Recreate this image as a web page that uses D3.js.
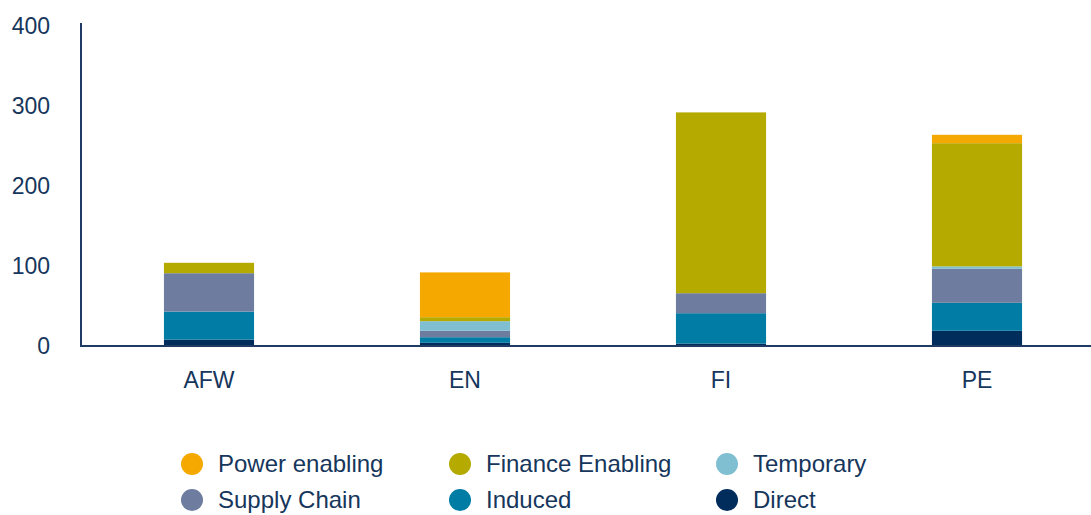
<!DOCTYPE html>
<html><head><meta charset="utf-8">
<script src="https://cdn.jsdelivr.net/npm/d3@7"></script>
<style>body{margin:0;background:#fff;}text{font-family:"Liberation Sans",Arial,sans-serif;}</style>
</head><body><svg id="c" width="1091" height="515"></svg>
<script>
const categories = ["AFW", "EN", "FI", "PE"];
const seriesNames = ["Direct", "Induced", "Supply Chain", "Temporary", "Finance Enabling", "Power enabling"];
const direct = [8, 4, 3, 19];
const induced = [35, 7, 38, 35];
const supplyChain = [48, 8, 25, 42.5];
const temporary = [0, 12, 0, 3];
const financeEnabling = [13, 5, 226, 154];
const powerEnabling = [0, 56, 0, 10.5];
const yTicks = [0, 100, 200, 300, 400];
const colors = {"Direct":"#002D5C","Induced":"#007CA5","Supply Chain":"#6E7CA0","Temporary":"#7FBFD1","Finance Enabling":"#B5AA00","Power enabling":"#F5A800"};
const legendOrder = [["Power enabling","Finance Enabling","Temporary"],["Supply Chain","Induced","Direct"]];

const seriesVals = [direct, induced, supplyChain, temporary, financeEnabling, powerEnabling];
const rows = categories.map((c,i)=>{const o={cat:c}; seriesNames.forEach((s,j)=>o[s]=seriesVals[j][i]); return o;});
const stack = d3.stack().keys(seriesNames)(rows);

const svg = d3.select("#c");
const textColor = "#16365C";
const x = d3.scaleBand().domain(categories).range([81, 1105]).paddingInner(0.648).paddingOuter(0.324);
const y = d3.scaleLinear().domain([0, 400]).range([346, 26]);

svg.append("g").selectAll("g").data(stack).join("g").attr("fill", d=>colors[d.key])
  .selectAll("rect").data(d=>d).join("rect")
  .attr("x", d=>x(d.data.cat)).attr("width", x.bandwidth())
  .attr("y", d=>y(d[1])).attr("height", d=>Math.max(0, y(d[0])-y(d[1])));

// axes
svg.append("line").attr("x1",81).attr("x2",81).attr("y1",23).attr("y2",347).attr("stroke","#1F3B63").attr("stroke-width",2);
svg.append("line").attr("x1",80).attr("x2",1091).attr("y1",346).attr("y2",346).attr("stroke","#1F3B63").attr("stroke-width",2);

svg.append("g").selectAll("text").data(yTicks).join("text")
  .attr("x", 50).attr("y", d=>y(d)).attr("dy","0.35em").attr("text-anchor","end")
  .attr("font-size", 23).attr("fill", textColor).text(d=>d);

svg.append("g").selectAll("text").data(categories).join("text")
  .attr("x", d=>x(d)+x.bandwidth()/2).attr("y", 380).attr("dy","0.35em").attr("text-anchor","middle")
  .attr("font-size", 23).attr("fill", textColor).text(d=>d);

// legend
const lx = [192, 460, 727], ly = [464, 500];
legendOrder.forEach((row,ri)=>row.forEach((name,ci)=>{
  const g = svg.append("g");
  g.append("circle").attr("cx", lx[ci]).attr("cy", ly[ri]).attr("r", 11).attr("fill", colors[name]);
  g.append("text").attr("x", lx[ci]+26).attr("y", ly[ri]).attr("dy","0.35em").attr("font-size", 24).attr("fill", textColor).text(name);
}));
</script></body></html>
